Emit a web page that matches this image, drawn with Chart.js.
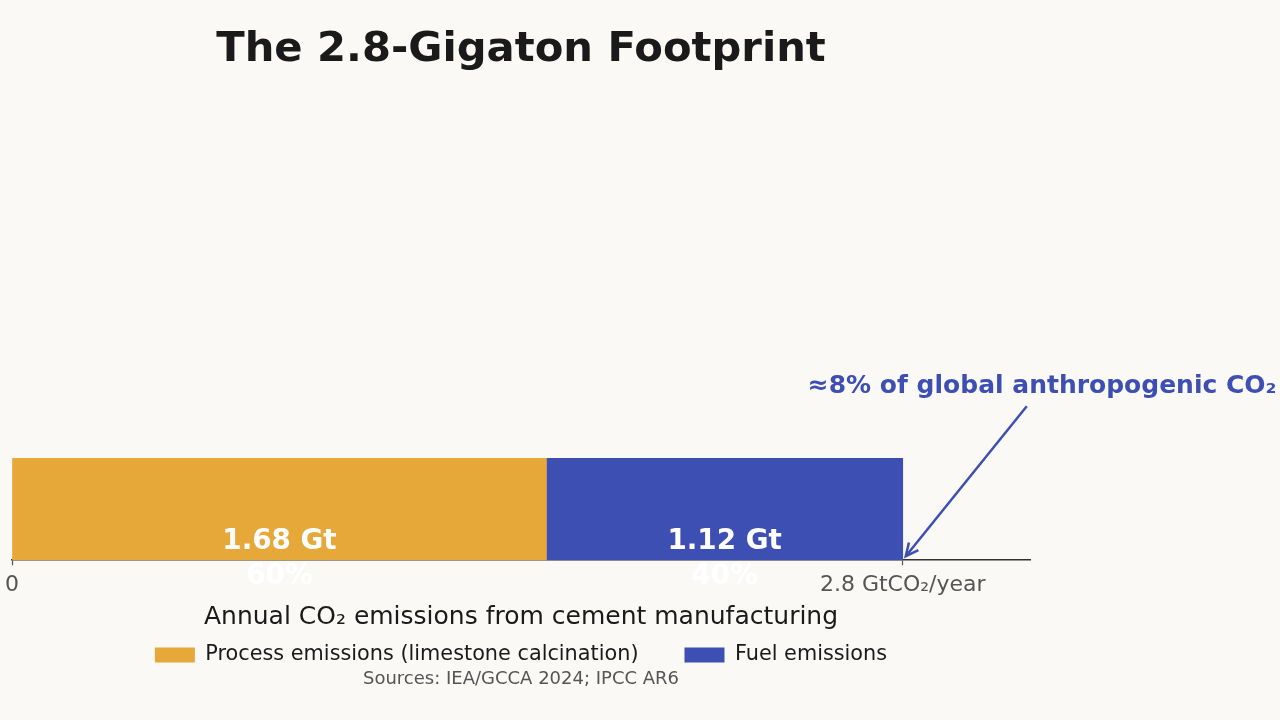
<!DOCTYPE html>
<html>
<head>
<meta charset="utf-8">
<script src="https://cdn.jsdelivr.net/npm/chart.js@4.4.1/dist/chart.umd.min.js"></script>
<style>
  html, body { margin: 0; padding: 0; background: #faf9f6; }
  canvas { display: block; }
</style>
</head>
<body>
<canvas id="canvas" width="1280" height="720"></canvas>
<script>
const categories = ['Cement'];
const seriesNames = ['Process emissions (limestone calcination)', 'Fuel emissions'];
const processValues = [1.68];
const fuelValues = [1.12];
const tickValues = [0, 2.8];
const tickLabels = ['0', '2.8 GtCO₂/year'];
const axisMax = 3.2;

const orange = '#e7a83a';
const blue = '#3e4fb3';
const fontFamily = '"DejaVu Sans", sans-serif';

// value labels inside/below each bar segment
const barLabels = {
	id: 'barLabels',
	afterDatasetsDraw(chart) {
		const ctx = chart.ctx;
		const total = processValues[0] + fuelValues[0];
		ctx.save();
		ctx.fillStyle = '#ffffff';
		ctx.textAlign = 'center';
		ctx.textBaseline = 'middle';
		ctx.font = 'bold 27.8px ' + fontFamily;
		chart.data.datasets.forEach((ds, i) => {
			const bar = chart.getDatasetMeta(i).data[0];
			const cx = (bar.x + bar.base) / 2;
			const v = ds.data[0];
			ctx.fillText(v.toFixed(2) + ' Gt', cx, chart.chartArea.bottom - 18);
			ctx.fillText(Math.round(v / total * 100) + '%', cx, chart.chartArea.bottom + 17);
		});
		ctx.restore();
	}
};

// callout arrow pointing at the total
const callout = {
	id: 'callout',
	afterDraw(chart) {
		const ctx = chart.ctx;
		const xs = chart.scales.x;
		const tipX = xs.getPixelForValue(processValues[0] + fuelValues[0]) + 3;
		const tipY = chart.chartArea.bottom - 4;
		const startX = tipX + 121;
		const startY = tipY - 150;
		ctx.save();
		ctx.strokeStyle = blue;
		ctx.lineWidth = 2.5;
		ctx.beginPath();
		ctx.moveTo(startX, startY);
		ctx.lineTo(tipX, tipY);
		ctx.stroke();
		const ang = Math.atan2(tipY - startY, tipX - startX);
		const len = 14;
		ctx.beginPath();
		ctx.moveTo(tipX - len * Math.cos(ang - 0.45), tipY - len * Math.sin(ang - 0.45));
		ctx.lineTo(tipX, tipY);
		ctx.lineTo(tipX - len * Math.cos(ang + 0.45), tipY - len * Math.sin(ang + 0.45));
		ctx.stroke();
		ctx.fillStyle = blue;
		ctx.font = 'bold 25px ' + fontFamily;
		ctx.textAlign = 'left';
		ctx.textBaseline = 'middle';
		ctx.fillText('≈8% of global anthropogenic CO₂', tipX - 98, chart.chartArea.bottom - 174);
		ctx.restore();
	}
};

window.onload = function() {
	const ctx = document.getElementById('canvas').getContext('2d');
	window.myBar = new Chart(ctx, {
		type: 'bar',
		data: {
			labels: categories,
			datasets: [{
				label: seriesNames[0],
				data: processValues,
				backgroundColor: orange,
				categoryPercentage: 1,
				barPercentage: 1
			}, {
				label: seriesNames[1],
				data: fuelValues,
				backgroundColor: blue,
				categoryPercentage: 1,
				barPercentage: 1
			}]
		},
		options: {
			indexAxis: 'y',
			responsive: false,
			animation: false,
			layout: { padding: { left: 12, right: 250, top: 0, bottom: 30 } },
			scales: {
				x: {
					stacked: true,
					min: 0,
					max: axisMax,
					afterBuildTicks(scale) {
						scale.ticks = tickValues.map(v => ({ value: v }));
					},
					afterFit(scale) {
						// let the "0" label hang into the left margin
						scale.paddingLeft = 0;
					},
					grid: { drawOnChartArea: false, tickLength: 5, color: '#555', tickWidth: 1.2 },
					border: { color: '#333', width: 1.5 },
					ticks: {
						color: '#555',
						font: { family: fontFamily, size: 22 },
						padding: 7,
						maxRotation: 0,
						autoSkip: false,
						callback: (v, i) => tickLabels[i]
					},
					title: {
						display: true,
						text: 'Annual CO₂ emissions from cement manufacturing',
						color: '#1a1a1a',
						font: { family: fontFamily, size: 25 },
						padding: { top: -3, bottom: -34 }
					}
				},
				y: {
					stacked: true,
					display: false
				}
			},
			plugins: {
				title: {
					display: true,
					fullSize: false,
					text: 'The 2.8-Gigaton Footprint',
					color: '#1a1a1a',
					font: { family: fontFamily, size: 41.7, weight: 'bold' },
					padding: { top: 25, bottom: 383 }
				},
				subtitle: {
					display: true,
					position: 'bottom',
					fullSize: false,
					text: 'Sources: IEA/GCCA 2024; IPCC AR6',
					color: '#555',
					font: { family: fontFamily, size: 18 },
					padding: { top: -7, bottom: 0 }
				},
				legend: {
					position: 'bottom',
					fullSize: false,
					labels: {
						boxWidth: 40,
						boxHeight: 15,
						padding: 46,
						color: '#1a1a1a',
						font: { family: fontFamily, size: 20.8 }
					}
				},
				tooltip: { enabled: false }
			}
		},
		plugins: [barLabels, callout]
	});
};
</script>
</body>
</html>
